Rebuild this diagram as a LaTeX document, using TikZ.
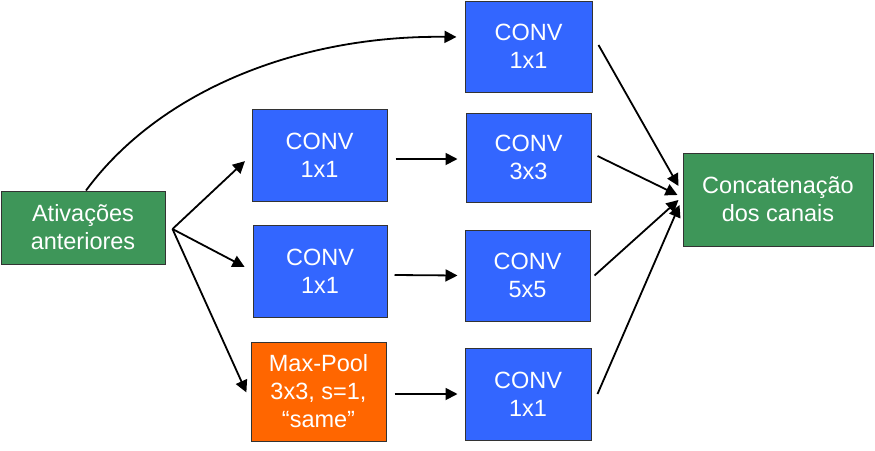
\documentclass[tikz,border=0pt]{standalone}
\usepackage{fontspec}
\setmainfont{Liberation Sans}
\usetikzlibrary{arrows.meta}
\definecolor{convblue}{HTML}{3366FF}
\definecolor{poolorange}{HTML}{FF6600}
\definecolor{actgreen}{HTML}{3E9659}
\definecolor{edgegray}{HTML}{333333}
\begin{document}
\begin{tikzpicture}[x=1pt,y=-1pt,
  box/.style={draw=edgegray,line width=1pt,text=white,align=center,inner sep=0pt,
    font=\fontsize{23.5}{28}\selectfont},
  convbox/.style={box,fill=convblue},
  poolbox/.style={box,fill=poolorange},
  greenbox/.style={box,fill=actgreen},
  arr/.style={line width=1.8pt,-{Triangle[length=12pt,width=12pt]}}]
\useasboundingbox (0,0) rectangle (875,450);
\node[greenbox,minimum width=164pt,minimum height=73pt] (act) at (83,227.5) {Ativações\\anteriores};
\node[convbox,minimum width=127pt,minimum height=91pt] (c0) at (528.5,46.5) {CONV\\1x1};
\node[convbox,minimum width=135pt,minimum height=92pt] (c1) at (319.5,155) {CONV\\1x1};
\node[convbox,minimum width=125pt,minimum height=89pt] (c3) at (528.5,157.5) {CONV\\3x3};
\node[convbox,minimum width=134pt,minimum height=92pt] (c2) at (320,271) {CONV\\1x1};
\node[convbox,minimum width=125pt,minimum height=91pt] (c5) at (527.5,275.5) {CONV\\5x5};
\node[poolbox,minimum width=135pt,minimum height=99pt] (mp) at (318.5,391.5) {Max-Pool\\3x3, s=1,\\“same”};
\node[convbox,minimum width=126pt,minimum height=92pt] (c6) at (528,394) {CONV\\1x1};
\node[greenbox,minimum width=190pt,minimum height=93pt] (cc) at (778,199.5) {Concatenação\\dos canais};
\coordinate (fan) at ([xshift=7pt,yshift=-1.5pt]act.east);
% curved skip arrow
\draw[arr] ([xshift=3pt]act.north) .. controls (160,90) and (300,35) .. ([xshift=-8pt,yshift=9.5pt]c0.west);
% fan-out arrows
\draw[arr,shorten >=9pt] (fan) -- (c1.west);
\draw[arr,shorten >=9pt] (fan) -- (c2.west);
\draw[arr,shorten >=10pt] (fan) -- ([yshift=-10pt]mp.west);
% horizontal arrows
\draw[arr] ([xshift=8pt,yshift=-4pt]c1.east) -- ([xshift=-8pt,yshift=-1.5pt]c3.west);
\draw[arr] ([xshift=7pt,yshift=-4pt]c2.east) -- ([xshift=-7pt]c5.west);
\draw[arr] ([xshift=8pt,yshift=-2.5pt]mp.east) -- ([xshift=-7pt]c6.west);
% to concatenation
\draw[arr] ([xshift=6pt,yshift=1.5pt]c0.east) -- ([xshift=-4pt,yshift=13.5pt]cc.west);
\draw[arr] ([xshift=6pt,yshift=1.5pt]c3.east) -- ([xshift=-5pt,yshift=4.5pt]cc.west);
\draw[arr] ([xshift=4pt]c5.east) -- ([xshift=-4pt,yshift=-0.5pt]cc.west);
\draw[arr] ([xshift=6pt]c6.east) -- ([xshift=-3pt,yshift=-5.5pt]cc.west);
\end{tikzpicture}
\end{document}
